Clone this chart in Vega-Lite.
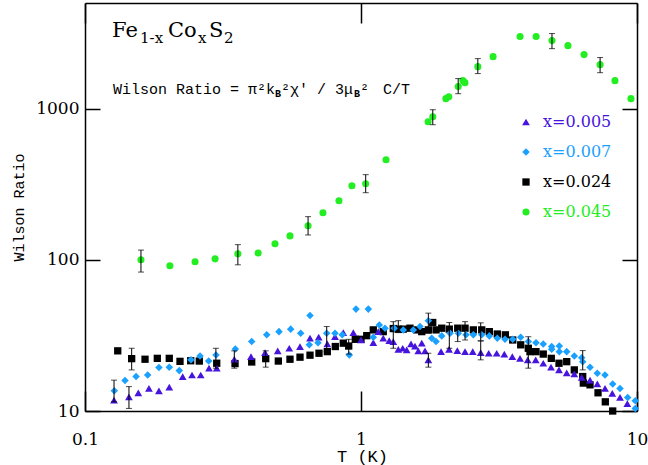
{
  "$schema": "https://vega.github.io/schema/vega-lite/v6.json",
  "width": 552,
  "height": 408,
  "autosize": "none",
  "padding": {"left": 85, "top": 3, "right": 11, "bottom": 54},
  "background": "white",
  "config": {
    "view": {"stroke": null},
    "axis": {
      "domainColor": "black", "domainWidth": 1.5,
      "tickColor": "black", "tickWidth": 1.5,
      "labelFont": "DejaVu Serif", "labelFontSize": 17, "labelColor": "black",
      "grid": false, "labelFlush": false, "labelOverlap": false,
      "titleFont": "Liberation Mono", "titleFontSize": 16, "titleFontWeight": "normal", "titleColor": "black"
    }
  },
  "resolve": {"axis": {"x": "independent", "y": "independent"}},
  "datasets": {
    "pts": [
      {"s":"x=0.045","T":0.1595,"R":100},{"s":"x=0.045","T":0.203,"R":91.3},{"s":"x=0.045","T":0.2505,"R":97},{"s":"x=0.045","T":0.296,"R":101.5},{"s":"x=0.045","T":0.358,"R":109.6},{"s":"x=0.045","T":0.424,"R":111},{"s":"x=0.045","T":0.488,"R":127.6},{"s":"x=0.045","T":0.553,"R":144},{"s":"x=0.045","T":0.643,"R":168},{"s":"x=0.045","T":0.728,"R":205},{"s":"x=0.045","T":0.832,"R":246},{"s":"x=0.045","T":0.927,"R":309},{"s":"x=0.045","T":1.04,"R":319},{"s":"x=0.045","T":1.232,"R":459},{"s":"x=0.045","T":1.75,"R":820},{"s":"x=0.045","T":1.82,"R":885},{"s":"x=0.045","T":2.03,"R":1165},{"s":"x=0.045","T":2.08,"R":1200},{"s":"x=0.045","T":2.25,"R":1400},{"s":"x=0.045","T":2.34,"R":1532},{"s":"x=0.045","T":2.38,"R":1486},{"s":"x=0.045","T":2.65,"R":1897},{"s":"x=0.045","T":3.01,"R":2208},{"s":"x=0.045","T":3.77,"R":3000},{"s":"x=0.045","T":4.31,"R":3000},{"s":"x=0.045","T":4.92,"R":2820},{"s":"x=0.045","T":5.62,"R":2612},{"s":"x=0.045","T":6.43,"R":2278},{"s":"x=0.045","T":7.35,"R":1955},{"s":"x=0.045","T":8.32,"R":1532},{"s":"x=0.045","T":9.51,"R":1165},
      {"s":"x=0.024","T":0.1314,"R":25.0},{"s":"x=0.024","T":0.1476,"R":22.2},{"s":"x=0.024","T":0.165,"R":22.0},{"s":"x=0.024","T":0.1828,"R":22.3},{"s":"x=0.024","T":0.202,"R":22.3},{"s":"x=0.024","T":0.2209,"R":21.3},{"s":"x=0.024","T":0.2415,"R":21.5},{"s":"x=0.024","T":0.2595,"R":21.4},{"s":"x=0.024","T":0.3001,"R":20.7},{"s":"x=0.024","T":0.3496,"R":20.6},{"s":"x=0.024","T":0.4018,"R":21.1},{"s":"x=0.024","T":0.4516,"R":22.2},{"s":"x=0.024","T":0.5017,"R":21.4},{"s":"x=0.024","T":0.553,"R":22.0},{"s":"x=0.024","T":0.6012,"R":22.7},{"s":"x=0.024","T":0.6535,"R":23.4},{"s":"x=0.024","T":0.7044,"R":24.1},{"s":"x=0.024","T":0.755,"R":24.7},{"s":"x=0.024","T":0.8071,"R":26.7},{"s":"x=0.024","T":0.8626,"R":28.1},{"s":"x=0.024","T":0.9025,"R":26.9},{"s":"x=0.024","T":0.9535,"R":29.8},{"s":"x=0.024","T":1.0,"R":29.8},{"s":"x=0.024","T":1.049,"R":31.5},{"s":"x=0.024","T":1.108,"R":34.4},{"s":"x=0.024","T":1.204,"R":33.5},{"s":"x=0.024","T":1.309,"R":35.1},{"s":"x=0.024","T":1.365,"R":34.8},{"s":"x=0.024","T":1.423,"R":34.8},{"s":"x=0.024","T":1.505,"R":35.3},{"s":"x=0.024","T":1.591,"R":34.4},{"s":"x=0.024","T":1.66,"R":33.5},{"s":"x=0.024","T":1.754,"R":34.4},{"s":"x=0.024","T":1.819,"R":38.5},{"s":"x=0.024","T":1.87,"R":34.4},{"s":"x=0.024","T":1.961,"R":35.3},{"s":"x=0.024","T":2.089,"R":34.8},{"s":"x=0.024","T":2.241,"R":35.3},{"s":"x=0.024","T":2.382,"R":35.3},{"s":"x=0.024","T":2.553,"R":34.4},{"s":"x=0.024","T":2.738,"R":34.4},{"s":"x=0.024","T":2.917,"R":33.5},{"s":"x=0.024","T":3.118,"R":32.3},{"s":"x=0.024","T":3.334,"R":31.9},{"s":"x=0.024","T":3.546,"R":29.5},{"s":"x=0.024","T":3.79,"R":27.4},{"s":"x=0.024","T":4.038,"R":26.0},{"s":"x=0.024","T":4.095,"R":24.7},{"s":"x=0.024","T":4.305,"R":24.7},{"s":"x=0.024","T":4.575,"R":23.8},{"s":"x=0.024","T":4.892,"R":22.3},{"s":"x=0.024","T":5.217,"R":20.7},{"s":"x=0.024","T":5.563,"R":21.2},{"s":"x=0.024","T":5.927,"R":18.7},{"s":"x=0.024","T":6.358,"R":16.9},{"s":"x=0.024","T":6.39,"R":15.3},{"s":"x=0.024","T":6.758,"R":14.9},{"s":"x=0.024","T":7.224,"R":13.2},{"s":"x=0.024","T":7.677,"R":11.5},{"s":"x=0.024","T":8.165,"R":10.0},
      {"s":"x=0.005","T":0.1274,"R":11.8},{"s":"x=0.005","T":0.1443,"R":12.4},{"s":"x=0.005","T":0.156,"R":13.2},{"s":"x=0.005","T":0.1705,"R":14.1},{"s":"x=0.005","T":0.1853,"R":13.6},{"s":"x=0.005","T":0.202,"R":14.4},{"s":"x=0.005","T":0.2259,"R":16.9},{"s":"x=0.005","T":0.2442,"R":17.3},{"s":"x=0.005","T":0.2626,"R":17.3},{"s":"x=0.005","T":0.2814,"R":19.2},{"s":"x=0.005","T":0.3001,"R":19.2},{"s":"x=0.005","T":0.3475,"R":22.0},{"s":"x=0.005","T":0.3994,"R":22.9},{"s":"x=0.005","T":0.449,"R":24.3},{"s":"x=0.005","T":0.4992,"R":25.0},{"s":"x=0.005","T":0.5497,"R":26.0},{"s":"x=0.005","T":0.6012,"R":26.7},{"s":"x=0.005","T":0.6535,"R":30.3},{"s":"x=0.005","T":0.7026,"R":30.8},{"s":"x=0.005","T":0.755,"R":27.8},{"s":"x=0.005","T":0.805,"R":31.0},{"s":"x=0.005","T":0.8626,"R":33.0},{"s":"x=0.005","T":0.938,"R":33.0},{"s":"x=0.005","T":1.0,"R":29.5},{"s":"x=0.005","T":1.108,"R":28.3},{"s":"x=0.005","T":1.155,"R":33.5},{"s":"x=0.005","T":1.204,"R":30.3},{"s":"x=0.005","T":1.266,"R":29.2},{"s":"x=0.005","T":1.309,"R":28.8},{"s":"x=0.005","T":1.365,"R":25.6},{"s":"x=0.005","T":1.416,"R":26.0},{"s":"x=0.005","T":1.464,"R":25.4},{"s":"x=0.005","T":1.518,"R":27.8},{"s":"x=0.005","T":1.569,"R":26.9},{"s":"x=0.005","T":1.613,"R":25.0},{"s":"x=0.005","T":1.66,"R":28.1},{"s":"x=0.005","T":1.706,"R":25.0},{"s":"x=0.005","T":1.754,"R":21.8},{"s":"x=0.005","T":1.95,"R":24.7},{"s":"x=0.005","T":2.084,"R":25.6},{"s":"x=0.005","T":2.233,"R":25.1},{"s":"x=0.005","T":2.382,"R":24.7},{"s":"x=0.005","T":2.54,"R":24.7},{"s":"x=0.005","T":2.715,"R":24.3},{"s":"x=0.005","T":2.902,"R":24.1},{"s":"x=0.005","T":3.102,"R":24.1},{"s":"x=0.005","T":3.306,"R":23.8},{"s":"x=0.005","T":3.534,"R":22.9},{"s":"x=0.005","T":3.768,"R":22.3},{"s":"x=0.005","T":4.018,"R":21.8},{"s":"x=0.005","T":4.295,"R":21.8},{"s":"x=0.005","T":4.575,"R":20.7},{"s":"x=0.005","T":4.88,"R":19.5},{"s":"x=0.005","T":5.217,"R":18.7},{"s":"x=0.005","T":5.563,"R":17.9},{"s":"x=0.005","T":5.927,"R":17.6},{"s":"x=0.005","T":6.304,"R":16.7},{"s":"x=0.005","T":6.758,"R":16.0},{"s":"x=0.005","T":7.182,"R":15.1},{"s":"x=0.005","T":7.658,"R":14.1},{"s":"x=0.005","T":8.136,"R":13.1},{"s":"x=0.005","T":8.679,"R":12.3},{"s":"x=0.005","T":9.224,"R":11.2},
      {"s":"x=0.007","T":0.1277,"R":13.6},{"s":"x=0.007","T":0.1396,"R":15.9},{"s":"x=0.007","T":0.1531,"R":16.9},{"s":"x=0.007","T":0.1687,"R":17.3},{"s":"x=0.007","T":0.1853,"R":19.4},{"s":"x=0.007","T":0.202,"R":19.5},{"s":"x=0.007","T":0.2196,"R":18.5},{"s":"x=0.007","T":0.2421,"R":21.8},{"s":"x=0.007","T":0.2611,"R":23.1},{"s":"x=0.007","T":0.2807,"R":21.4},{"s":"x=0.007","T":0.2983,"R":23.5},{"s":"x=0.007","T":0.3504,"R":25.7},{"s":"x=0.007","T":0.4018,"R":28.8},{"s":"x=0.007","T":0.4554,"R":31.9},{"s":"x=0.007","T":0.5046,"R":33.5},{"s":"x=0.007","T":0.5562,"R":34.8},{"s":"x=0.007","T":0.6047,"R":32.7},{"s":"x=0.007","T":0.6535,"R":42.8},{"s":"x=0.007","T":0.6497,"R":27.4},{"s":"x=0.007","T":0.6986,"R":28.3},{"s":"x=0.007","T":0.7512,"R":32.7},{"s":"x=0.007","T":0.805,"R":32.7},{"s":"x=0.007","T":0.8553,"R":31.9},{"s":"x=0.007","T":0.9071,"R":23.5},{"s":"x=0.007","T":0.9593,"R":47.2},{"s":"x=0.007","T":1.063,"R":47.2},{"s":"x=0.007","T":1.108,"R":30.8},{"s":"x=0.007","T":1.165,"R":37.1},{"s":"x=0.007","T":1.222,"R":35.3},{"s":"x=0.007","T":1.32,"R":35.3},{"s":"x=0.007","T":1.423,"R":34.4},{"s":"x=0.007","T":1.547,"R":34.4},{"s":"x=0.007","T":1.636,"R":36.2},{"s":"x=0.007","T":1.754,"R":39.6},{"s":"x=0.007","T":1.804,"R":30.3},{"s":"x=0.007","T":1.87,"R":28.8},{"s":"x=0.007","T":1.961,"R":31.4},{"s":"x=0.007","T":2.102,"R":32.7},{"s":"x=0.007","T":2.252,"R":32.7},{"s":"x=0.007","T":2.402,"R":31.9},{"s":"x=0.007","T":2.553,"R":31.9},{"s":"x=0.007","T":2.738,"R":31.9},{"s":"x=0.007","T":2.917,"R":31.4},{"s":"x=0.007","T":3.118,"R":30.3},{"s":"x=0.007","T":3.325,"R":29.8},{"s":"x=0.007","T":3.546,"R":29.8},{"s":"x=0.007","T":3.79,"R":30.8},{"s":"x=0.007","T":4.038,"R":28.8},{"s":"x=0.007","T":4.305,"R":28.3},{"s":"x=0.007","T":4.575,"R":27.7},{"s":"x=0.007","T":4.908,"R":26.7},{"s":"x=0.007","T":4.908,"R":25.6},{"s":"x=0.007","T":5.23,"R":26.9},{"s":"x=0.007","T":5.23,"R":24.7},{"s":"x=0.007","T":5.563,"R":24.7},{"s":"x=0.007","T":5.927,"R":23.1},{"s":"x=0.007","T":6.304,"R":22.5},{"s":"x=0.007","T":6.358,"R":21.2},{"s":"x=0.007","T":6.758,"R":19.5},{"s":"x=0.007","T":7.182,"R":17.8},{"s":"x=0.007","T":7.658,"R":17.3},{"s":"x=0.007","T":8.165,"R":15.1},{"s":"x=0.007","T":8.679,"R":14.1},{"s":"x=0.007","T":9.254,"R":12.3},{"s":"x=0.007","T":9.858,"R":11.7},{"s":"x=0.007","T":9.858,"R":10.4}
    ],
    "err": [
      {"T":0.1595,"lo":83,"hi":116},{"T":0.358,"lo":92.7,"hi":126},{"T":0.643,"lo":146,"hi":193},{"T":1.04,"lo":278,"hi":366},{"T":1.82,"lo":783,"hi":984},{"T":2.25,"lo":1256,"hi":1581},{"T":2.65,"lo":1706,"hi":2143},{"T":4.92,"lo":2495,"hi":3140},{"T":7.35,"lo":1730,"hi":2178},
      {"T":0.1274,"lo":11.5,"hi":16.0},{"T":0.1443,"lo":10.4,"hi":14.5},{"T":0.1476,"lo":18.7,"hi":26.0},{"T":0.298,"lo":19.2,"hi":26.0},{"T":0.3475,"lo":19.2,"hi":25.0},{"T":0.4516,"lo":19.5,"hi":25.0},{"T":0.7512,"lo":24.7,"hi":36.2},{"T":0.9025,"lo":23.8,"hi":29.8},{"T":1.309,"lo":26.0,"hi":39.0},{"T":1.365,"lo":33.0,"hi":39.6},{"T":1.754,"lo":32.7,"hi":44.4},{"T":1.754,"lo":19.5,"hi":24.1},{"T":2.089,"lo":26.0,"hi":38.5},{"T":2.241,"lo":28.8,"hi":34.8},{"T":2.382,"lo":29.5,"hi":39.0},{"T":2.715,"lo":29.1,"hi":38.3},{"T":2.715,"lo":21.8,"hi":29.1},{"T":4.038,"lo":19.2,"hi":31.0},{"T":6.358,"lo":18.7,"hi":25.1}
    ],
    "one": [{}]
  },
  "layer": [
    {
      "data": {"name": "pts"},
      "mark": {"type": "point", "filled": true, "opacity": 1, "strokeWidth": 0},
      "encoding": {
        "x": {"field": "T", "type": "quantitative",
          "scale": {"type": "log", "domain": [0.1, 10], "nice": false},
          "axis": {"values": [0.1, 1, 10], "format": "~g", "tickSize": -20, "labelPadding": 40,
            "title": "T (K)", "titleX": 277, "titleY": 50, "titleAlign": "center", "titleBaseline": "alphabetic", "titleFontSize": 17}},
        "y": {"field": "R", "type": "quantitative",
          "scale": {"type": "log", "domain": [10, 5000], "nice": false},
          "axis": {"values": [10, 100, 1000], "format": "~g", "tickSize": -15, "labelPadding": 21,
            "title": "Wilson Ratio", "titleX": -67, "titleY": 204, "titleAlign": "center", "titleBaseline": "middle", "titleFontSize": 15}},
        "color": {"field": "s", "type": "nominal",
          "scale": {"domain": ["x=0.005", "x=0.007", "x=0.024", "x=0.045"], "range": ["#4614dc", "#1aa0ff", "#000000", "#22ee22"]},
          "legend": {"orient": "none", "legendX": 433, "legendY": 111, "title": null, "symbolSize": 50, "symbolStrokeWidth": 0,
            "labelFont": "DejaVu Serif", "labelFontSize": 16, "labelOffset": 9, "rowPadding": 14, "padding": 0,
            "encode": {"labels": {"fill": {"value": {"expr": "scale('color', datum.value)"}}}},
            "encoding": {"labels": {"fill": {"value": {"expr": "scale('color', datum.value)"}}}}}},
        "shape": {"field": "s", "type": "nominal",
          "scale": {"domain": ["x=0.005", "x=0.007", "x=0.024", "x=0.045"], "range": ["triangle-up", "diamond", "square", "circle"]},
          "legend": {"orient": "none", "legendX": 433, "legendY": 111, "title": null, "symbolSize": 50, "symbolStrokeWidth": 0,
            "labelFont": "DejaVu Serif", "labelFontSize": 16, "labelOffset": 9, "rowPadding": 14, "padding": 0,
            "encode": {"labels": {"fill": {"value": {"expr": "scale('color', datum.value)"}}}},
            "encoding": {"labels": {"fill": {"value": {"expr": "scale('color', datum.value)"}}}}}},
        "size": {"field": "s", "type": "ordinal",
          "scale": {"domain": ["x=0.005", "x=0.007", "x=0.024", "x=0.045"], "range": [60, 50, 80, 50]}, "legend": null}
      }
    },
    {
      "data": {"name": "err"},
      "mark": {"type": "rule", "color": "black", "strokeWidth": 1},
      "encoding": {
        "x": {"field": "T", "type": "quantitative",
          "axis": {"orient": "top", "values": [0.1, 1, 10], "tickSize": -20, "labels": false, "title": null}},
        "y": {"field": "lo", "type": "quantitative",
          "axis": {"orient": "right", "values": [10, 100, 1000], "tickSize": -15, "labels": false, "title": null}},
        "y2": {"field": "hi"}
      }
    },
    {
      "data": {"name": "err"},
      "mark": {"type": "tick", "orient": "horizontal", "color": "black", "size": 6, "thickness": 1},
      "encoding": {
        "x": {"field": "T", "type": "quantitative", "axis": null},
        "y": {"field": "lo", "type": "quantitative", "axis": null}
      }
    },
    {
      "data": {"name": "err"},
      "mark": {"type": "tick", "orient": "horizontal", "color": "black", "size": 6, "thickness": 1},
      "encoding": {
        "x": {"field": "T", "type": "quantitative", "axis": null},
        "y": {"field": "hi", "type": "quantitative", "axis": null}
      }
    },
    {
      "data": {"name": "one"},
      "mark": {"type": "text", "align": "left", "baseline": "alphabetic", "font": "DejaVu Serif", "fontSize": 21, "color": "black"},
      "encoding": {"x": {"datum": 0.1253, "type": "quantitative", "axis": null}, "y": {"datum": 3000, "type": "quantitative", "axis": null}, "text": {"value": "Fe"}}
    },
    {
      "data": {"name": "one"},
      "mark": {"type": "text", "align": "left", "baseline": "alphabetic", "font": "DejaVu Serif", "fontSize": 15, "color": "black", "dx": 28, "dy": 6},
      "encoding": {"x": {"datum": 0.1253, "type": "quantitative", "axis": null}, "y": {"datum": 3000, "type": "quantitative", "axis": null}, "text": {"value": "1-x"}}
    },
    {
      "data": {"name": "one"},
      "mark": {"type": "text", "align": "left", "baseline": "alphabetic", "font": "DejaVu Serif", "fontSize": 21, "color": "black", "dx": 56},
      "encoding": {"x": {"datum": 0.1253, "type": "quantitative", "axis": null}, "y": {"datum": 3000, "type": "quantitative", "axis": null}, "text": {"value": "Co"}}
    },
    {
      "data": {"name": "one"},
      "mark": {"type": "text", "align": "left", "baseline": "alphabetic", "font": "DejaVu Serif", "fontSize": 15, "color": "black", "dx": 86, "dy": 6},
      "encoding": {"x": {"datum": 0.1253, "type": "quantitative", "axis": null}, "y": {"datum": 3000, "type": "quantitative", "axis": null}, "text": {"value": "x"}}
    },
    {
      "data": {"name": "one"},
      "mark": {"type": "text", "align": "left", "baseline": "alphabetic", "font": "DejaVu Serif", "fontSize": 21, "color": "black", "dx": 97},
      "encoding": {"x": {"datum": 0.1253, "type": "quantitative", "axis": null}, "y": {"datum": 3000, "type": "quantitative", "axis": null}, "text": {"value": "S"}}
    },
    {
      "data": {"name": "one"},
      "mark": {"type": "text", "align": "left", "baseline": "alphabetic", "font": "DejaVu Serif", "fontSize": 15, "color": "black", "dx": 112, "dy": 6},
      "encoding": {"x": {"datum": 0.1253, "type": "quantitative", "axis": null}, "y": {"datum": 3000, "type": "quantitative", "axis": null}, "text": {"value": "2"}}
    },
    {
      "data": {"name": "one"},
      "mark": {"type": "text", "align": "left", "baseline": "alphabetic", "font": "Liberation Mono", "fontSize": 15, "color": "black"},
      "encoding": {"x": {"datum": 0.1263, "type": "quantitative", "axis": null}, "y": {"datum": 1257, "type": "quantitative", "axis": null}, "text": {"value": "Wilson Ratio = π²k"}}
    },
    {
      "data": {"name": "one"},
      "mark": {"type": "text", "align": "left", "baseline": "alphabetic", "font": "Liberation Mono", "fontSize": 10, "fontWeight": "bold", "color": "black", "dx": 162, "dy": 3},
      "encoding": {"x": {"datum": 0.1263, "type": "quantitative", "axis": null}, "y": {"datum": 1257, "type": "quantitative", "axis": null}, "text": {"value": "B"}}
    },
    {
      "data": {"name": "one"},
      "mark": {"type": "text", "align": "left", "baseline": "alphabetic", "font": "Liberation Mono", "fontSize": 15, "color": "black", "dx": 168},
      "encoding": {"x": {"datum": 0.1263, "type": "quantitative", "axis": null}, "y": {"datum": 1257, "type": "quantitative", "axis": null}, "text": {"value": "²χ' / 3μ"}}
    },
    {
      "data": {"name": "one"},
      "mark": {"type": "text", "align": "left", "baseline": "alphabetic", "font": "Liberation Mono", "fontSize": 10, "fontWeight": "bold", "color": "black", "dx": 241, "dy": 3},
      "encoding": {"x": {"datum": 0.1263, "type": "quantitative", "axis": null}, "y": {"datum": 1257, "type": "quantitative", "axis": null}, "text": {"value": "B"}}
    },
    {
      "data": {"name": "one"},
      "mark": {"type": "text", "align": "left", "baseline": "alphabetic", "font": "Liberation Mono", "fontSize": 15, "color": "black", "dx": 247},
      "encoding": {"x": {"datum": 0.1263, "type": "quantitative", "axis": null}, "y": {"datum": 1257, "type": "quantitative", "axis": null}, "text": {"value": "²"}}
    },
    {
      "data": {"name": "one"},
      "mark": {"type": "text", "align": "left", "baseline": "alphabetic", "font": "Liberation Mono", "fontSize": 15, "color": "black", "dx": 270},
      "encoding": {"x": {"datum": 0.1263, "type": "quantitative", "axis": null}, "y": {"datum": 1257, "type": "quantitative", "axis": null}, "text": {"value": "C/T"}}
    }
  ]
}
